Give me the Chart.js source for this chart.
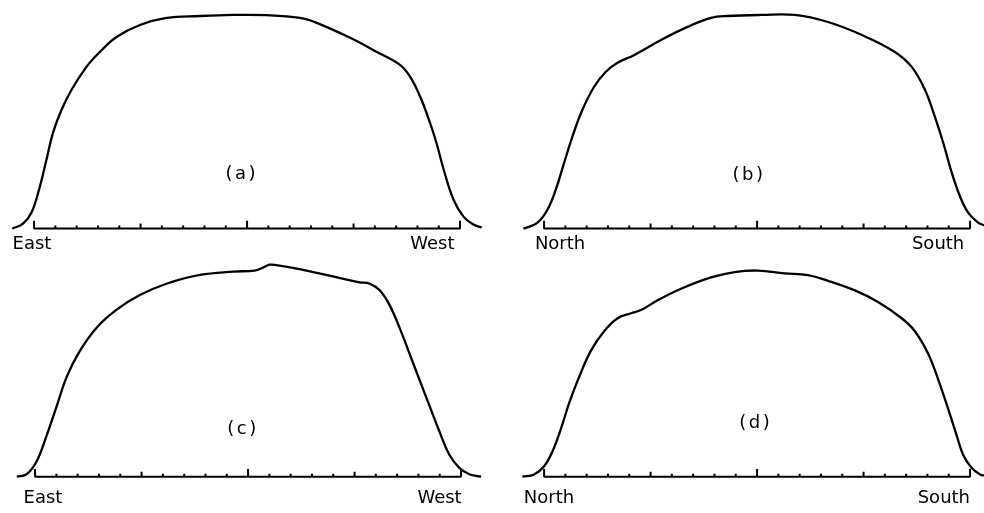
<!DOCTYPE html>
<html>
<head>
<meta charset="utf-8">
<title>Profiles</title>
<script src="https://cdn.jsdelivr.net/npm/chart.js@4"></script>
<style>
  html, body { margin: 0; width: 984px; height: 513px; overflow: hidden; background: #fff; }
  canvas { position: absolute; }
</style>
</head>
<body>
<canvas id="panelA" width="492" height="253" style="left:0px;top:0px"></canvas>
<canvas id="panelB" width="492" height="253" style="left:510px;top:0px"></canvas>
<canvas id="panelC" width="492" height="260" style="left:1px;top:253px"></canvas>
<canvas id="panelD" width="492" height="260" style="left:510px;top:253px"></canvas>
<script>
/* ================================
   DATOS
   ================================ */

// divisiones de la escala base (20 intervalos)
const scaleTicks = [0, 1, 2, 3, 4, 5, 6, 7, 8, 9, 10, 11, 12, 13, 14, 15, 16, 17, 18, 19, 20];

// nombres de los extremos de cada perfil
const namesEW = ['East', 'West'];
const namesNS = ['North', 'South'];
const tags = ['(a)', '(b)', '(c)', '(d)'];

// (a) perfil este-oeste
const posA = [-1.02, -0.52, -0.12, 0.27, 0.58, 0.89, 1.29, 1.76, 2.46, 3.09, 3.87, 4.97, 6.22, 7.79, 9.34,
  10.92, 12.49, 13.27, 14.84, 16.09, 17.18, 17.66, 18.13, 18.59, 18.91, 19.22, 19.69, 20.16, 20.63, 21.02];
const levelA = [0, 2.3, 7.5, 19.6, 32.2, 44.9, 55.6, 65, 75.7, 82.7, 89.7, 95.3, 98.6, 99.5, 100,
  99.9, 98.6, 96.3, 89.3, 82.7, 76.6, 71, 61.7, 49.5, 39.5, 28, 13.6, 5.6, 1.9, 0.5];

// (b) perfil norte-sur
const posB = [-0.97, -0.32, 0.16, 0.55, 0.94, 1.33, 1.80, 2.35, 2.90, 3.45, 4.24, 5.49, 6.74, 7.84, 8.63,
  10.2, 11.76, 13.33, 14.9, 16.47, 17.26, 17.88, 18.35, 18.74, 19.14, 19.53, 19.91, 20.38, 20.71, 21.0];
const levelB = [0, 2.7, 8.9, 18.2, 30.8, 43, 55.6, 66.4, 73.4, 77.6, 81.3, 88.3, 94.4, 98.6, 99.5,
  100, 100, 96.7, 90.7, 82.7, 75.7, 65, 52.3, 40.2, 26.2, 15, 7.5, 2.8, 1.4, 0.3];

// (c) perfil este-oeste
const posC = [-0.86, -0.39, 0.08, 0.55, 1.02, 1.49, 2.11, 2.89, 3.83, 4.92, 6.17, 7.74, 9.3, 10.31, 10.7, 11.02,
  11.33, 12.42, 13.98, 15.24, 15.71, 16.17, 16.64, 17.11, 17.58, 18.05, 18.52, 18.99, 19.45, 19.92, 20.39, 20.94];
const levelC = [0, 1.2, 7.5, 19.9, 33.9, 47.9, 60.3, 71.3, 79.9, 86.9, 92.3, 96.5, 98.1, 98.6, 100, 101.4,
  101.2, 99.3, 95.8, 93, 92.3, 89.3, 82.2, 71.3, 58.9, 46.3, 33.9, 21.5, 10.5, 4.2, 1.2, 0];

// (d) perfil norte-sur
const posD = [-1.02, -0.47, 0, 0.39, 0.79, 1.18, 1.65, 2.2, 2.82, 3.45, 4.08, 4.55, 5.33, 6.43, 7.84, 8.94, 10.04,
  11.29, 12.39, 13.33, 14.59, 15.68, 16.79, 17.41, 18.04, 18.51, 18.98, 19.37, 19.68, 20.08, 20.47, 20.71, 21.0];
const levelD = [0, 1.1, 5, 12, 22.9, 35.3, 47.8, 60.3, 69.6, 75.8, 78.2, 79.7, 84.4, 89.9, 95.3, 97.9, 98.6,
  97.3, 96.4, 93.7, 89.1, 83.6, 75.8, 69.6, 58.7, 46.3, 32.2, 19.8, 10.4, 4.2, 1.1, 0.5, 0];

/* ================================
   DIBUJO
   ================================ */

const FONT = '"DejaVu Sans", sans-serif';
const INK = '#000';

// letra de cada panel, colocada en coordenadas de los ejes
const panelTag = {
  id: 'panelTag',
  afterDatasetsDraw(chart, args, opts) {
    const { ctx, scales: { x, y } } = chart;
    ctx.save();
    ctx.font = '18px ' + FONT;
    ctx.fillStyle = INK;
    ctx.textAlign = 'center';
    ctx.textBaseline = 'middle';
    ctx.letterSpacing = '2.5px';
    ctx.fillText(opts.text, x.getPixelForValue(opts.at[0]), y.getPixelForValue(opts.at[1]));
    ctx.restore();
  }
};

// eje base con sus marcas: mayores cada 10, medianas cada 5
function axisPath(ticks) {
  const pts = [];
  ticks.forEach((t, i) => {
    const h = i % 10 === 0 ? 3.7 : (i % 5 === 0 ? 2.4 : 1.4);
    pts.push({ x: t, y: 0 }, { x: t, y: h }, { x: t, y: 0 });
  });
  return pts;
}

function drawPanel(id, pos, level, names, tag, look) {
  const curve = pos.map((p, i) => ({ x: p, y: level[i] }));
  return new Chart(document.getElementById(id), {
    type: 'line',
    data: {
      datasets: [
        {
          data: curve,
          borderColor: INK,
          borderWidth: 2.3,
          pointRadius: 0,
          tension: 0.4,
          fill: false
        },
        {
          data: axisPath(scaleTicks),
          borderColor: INK,
          borderWidth: 2,
          pointRadius: 0,
          tension: 0,
          borderJoinStyle: 'bevel',
          fill: false
        }
      ]
    },
    options: {
      responsive: false,
      animation: false,
      events: [],
      layout: { padding: 0 },
      plugins: {
        legend: { display: false },
        tooltip: { enabled: false },
        panelTag: { text: tag, at: look.tagAt }
      },
      scales: {
        x: {
          type: 'linear',
          min: -1.6,
          max: 21.5,
          grid: { display: false, drawTicks: false },
          border: { display: false },
          afterBuildTicks: scale => {
            scale.ticks = look.labelAt.map(v => ({ value: v }));
          },
          ticks: {
            autoSkip: false,
            maxRotation: 0,
            padding: look.pad,
            color: INK,
            font: { family: FONT, size: 18, lineHeight: 1 },
            callback: (v, i) => names[i]
          }
        },
        y: { display: false, min: -3, max: 107 }
      }
    },
    plugins: [panelTag]
  });
}

drawPanel('panelA', posA, levelA, namesEW, tags[0], { labelAt: [-0.1, 18.7], tagAt: [9.75, 25.3], pad: 0 });
drawPanel('panelB', posB, levelB, namesNS, tags[1], { labelAt: [0.75, 18.5], tagAt: [9.62, 25.1], pad: 0 });
drawPanel('panelC', posC, levelC, namesEW, tags[2], { labelAt: [0.37, 18.99], tagAt: [9.76, 22.6], pad: 6 });
drawPanel('panelD', posD, levelD, namesNS, tags[3], { labelAt: [0.23, 18.77], tagAt: [9.94, 25.4], pad: 6 });
</script>
</body>
</html>
